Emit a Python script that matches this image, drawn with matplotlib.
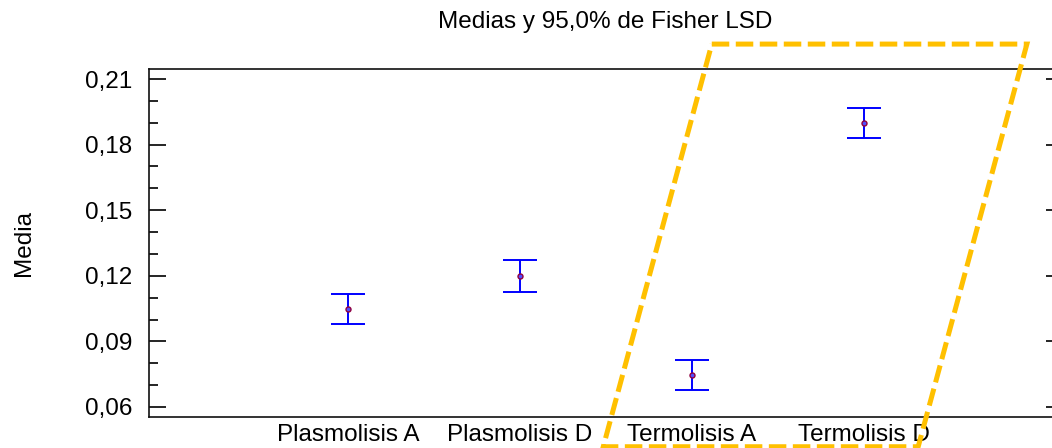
import matplotlib
matplotlib.use("Agg")
import matplotlib.pyplot as plt
from matplotlib.ticker import MultipleLocator, FuncFormatter

categories = ["Plasmolisis A", "Plasmolisis D", "Termolisis A", "Termolisis D"]
means = [0.1048, 0.1201, 0.0746, 0.1899]
lower = [0.0980, 0.1128, 0.0678, 0.1830]
upper = [0.1117, 0.1271, 0.0815, 0.1967]

# highlight parallelogram (data coordinates)
hl_x = [2.115, 3.947, 3.315, 1.484, 2.115]
hl_y = [0.2260, 0.2260, 0.0418, 0.0418, 0.2260]

plt.rcParams['font.family'] = ['Liberation Sans', 'DejaVu Sans']
FS = 17.5

fig = plt.figure(figsize=(10.52, 4.48), dpi=100)
ax = fig.add_axes([149/1052, 1 - 417/448, (1063 - 149)/1052, (417 - 69)/448])

x = list(range(len(categories)))
err_lo = [m - l for m, l in zip(means, lower)]
err_hi = [u - m for m, u in zip(means, upper)]
eb = ax.errorbar(x, means, yerr=[err_lo, err_hi], fmt='none', ecolor='#0000ff',
                 elinewidth=1.4, capsize=12.3, capthick=1.4, zorder=3)
for cap in eb[1]:
    cap.set_color('#5050ff')
ax.plot(x, means, 'o', ms=3.6, mfc='#5050ff', mec='#900040', mew=1.0, zorder=4)

ax.set_xlim(-1.157, 4.157)
ax.set_ylim(0.0554, 0.2146)
ax.set_xticks(x)
ax.set_xticklabels(categories, fontsize=FS)
ax.tick_params(axis='x', length=0, pad=5)
ax.yaxis.set_major_locator(MultipleLocator(0.03))
ax.yaxis.set_minor_locator(MultipleLocator(0.01))
ax.yaxis.set_major_formatter(FuncFormatter(lambda v, p: f"{v:.2f}".replace('.', ',')))
ax.tick_params(axis='y', which='major', direction='in', length=12, width=1.2,
               labelsize=FS, right=True, pad=12)
ax.tick_params(axis='y', which='minor', direction='in', length=6.5, width=1.2, right=True)
for s in ax.spines.values():
    s.set_linewidth(1.2)
    s.set_color('#101010')

ax.set_ylabel("Media", fontsize=FS)
ax.yaxis.set_label_coords(-0.125, 0.5)
fig.text(605/1052, 1 - 22/448, "Medias y 95,0% de Fisher LSD", ha='center', va='center', fontsize=FS)

ax.plot(hl_x, hl_y, color='#ffc000', lw=3.6, linestyle=(0, (3.5, 1.3)),
        clip_on=False, zorder=5, solid_joinstyle='miter', dash_joinstyle='miter')

fig.savefig("out.png", dpi=100)
